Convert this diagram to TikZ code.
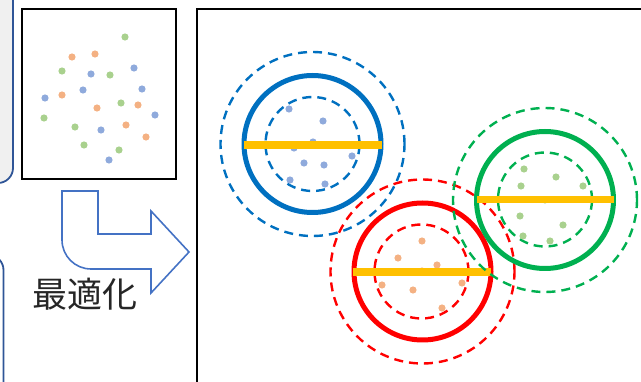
\documentclass[tikz,border=0pt]{standalone}
\usepackage{fontspec}
\newfontfamily\cjk{Noto Sans CJK JP}
\definecolor{dotgreen}{HTML}{A9D18E}
\definecolor{dotorange}{HTML}{F4B183}
\definecolor{dotblue}{HTML}{8FAADC}
\definecolor{ringblue}{HTML}{0070C0}
\definecolor{ringred}{HTML}{FF0000}
\definecolor{ringgreen}{HTML}{00B050}
\definecolor{baryellow}{HTML}{FFC000}
\definecolor{arrowblue}{HTML}{4472C4}
\definecolor{panelblue}{HTML}{2F5597}
\definecolor{panelgray}{HTML}{F0F0F0}
\tikzset{
  frame/.style={draw=black, line width=2.2pt},
  panel/.style={draw=panelblue, line width=1.8pt, rounded corners=15pt},
  ring/.style={line width=5pt},
  halo/.style={line width=2.4pt, dash pattern=on 9pt off 6pt},
  bar/.style={draw=baryellow, line width=7.5pt},
  gdot/.style={fill=dotgreen},
  odot/.style={fill=dotorange},
  bdot/.style={fill=dotblue},
}
\newcommand{\pts}[2]{\foreach \p in {#2} {\fill[#1] \p circle[radius=3.6pt];}}
\begin{document}
\begin{tikzpicture}[x=1pt,y=-1pt]
\useasboundingbox (0,0) rectangle (641,382);
\clip (0,0) rectangle (641,382);

% side panels
\draw[panel, fill=panelgray] (-40,-40) rectangle (13,183);
\draw[panel, fill=white] (-40,255) rectangle (3.5,430);

% input sample box
\draw[frame] (22,9) rectangle (176,179);
\pts{gdot}{(125,37),(62,71),(110,75),(121,103),(44,118),(75,127),(84,145),(119,150)}
\pts{odot}{(72,57),(95,54),(62,95),(97,108),(138,105),(126,125),(146,137)}
\pts{bdot}{(134,68),(91,74),(83,90),(45,98),(142,89),(155,115),(101,130),(109,160)}

% bent arrow
\draw[arrowblue, line width=1.6pt, line join=miter]
  (62,191) -- (98,191) -- (98,234) -- (151,234) -- (151,211) -- (189,252)
  -- (151,293) -- (151,269) -- (91,269) .. controls (75,269) and (62,256) .. (62,240) -- cycle;
\node[font=\cjk\fontsize{35}{35}\selectfont, text=black!85, inner sep=0pt] (opt) at (85,294) {最適化};

% result box
\draw[frame] (197,9) rectangle (700,440);

% blue cluster
\draw[ringblue, halo] (312.5,144) circle[radius=92pt];
\draw[ringblue, halo] (312.5,144) circle[radius=47pt];
\pts{bdot}{(289,109),(323,121),(313,142),(294,148),(352,156),(304,163),(324,165),(290,180),(325,184)}
\draw[ringblue, ring] (312.5,144) circle[radius=68.5pt];
\draw[bar] (244,145) -- (382,145);

% red cluster
\draw[ringred, halo] (422.5,271.5) circle[radius=92pt];
\draw[ringred, halo] (421.5,271.5) circle[radius=47pt];
\pts{odot}{(422,241),(398,258),(437,265),(422,271),(382,285),(462,283),(413,290),(442,308)}
\draw[ringred, ring] (422.5,271.5) circle[radius=68.5pt];
\draw[bar] (353,272) -- (491,272);

% green cluster
\draw[ringgreen, halo] (545,200) circle[radius=92pt];
\draw[ringgreen, halo] (545,199.5) circle[radius=47pt];
\pts{gdot}{(524,169),(556,177),(521,186),(583,186),(545,200),(520,216),(563,225),(523,236),(550,241)}
\draw[ringgreen, ring] (545,200) circle[radius=68.5pt];
\draw[bar] (477,199.5) -- (614,199.5);
\end{tikzpicture}
\end{document}
